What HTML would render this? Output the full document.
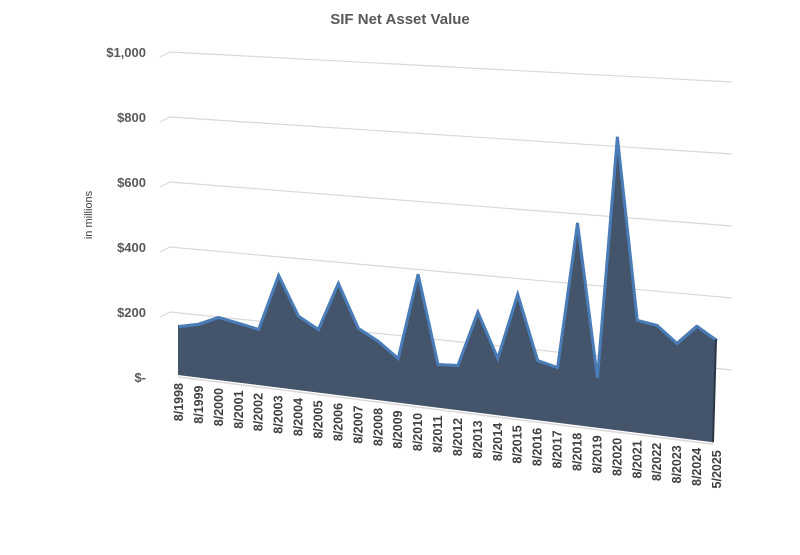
<!DOCTYPE html>
<html><head><meta charset="utf-8"><style>
body{margin:0;background:#fff;}
svg{display:block;font-family:"Liberation Sans",sans-serif;}
</style></head><body>
<svg id="chart" width="800" height="555" viewBox="0 0 800 555">
<text x="400" y="24" text-anchor="middle" font-size="15" font-weight="bold" fill="#595959">SIF Net Asset Value</text>
<text transform="translate(92,215) rotate(-90)" text-anchor="middle" font-size="11" fill="#404040">in millions</text>
<g id="grid"></g>
<g id="ylabels"></g>
<g id="area"></g>
<g id="xlabels"></g>
</svg>
<script>
const categories = ["8/1998","8/1999","8/2000","8/2001","8/2002","8/2003","8/2004","8/2005","8/2006","8/2007","8/2008","8/2009","8/2010","8/2011","8/2012","8/2013","8/2014","8/2015","8/2016","8/2017","8/2018","8/2019","8/2020","8/2021","8/2022","8/2023","8/2024","5/2025"];
const navValues = [156,170,198,187,175,347,229,195,341,212,180,135,392,131,135,298,169,362,176,162,584,145,839,322,313,268,322,288];
const yTicks = [0,200,400,600,800,1000];
const yTickLabels = ["$-","$200","$400","$600","$800","$1,000"];

const NS="http://www.w3.org/2000/svg";
function mk(tag,attrs,parent){const e=document.createElementNS(NS,tag);for(const k in attrs)e.setAttribute(k,attrs[k]);parent.appendChild(e);return e;}
const X0=178,X1=716,n=categories.length;
function xPos(i){return X0+(X1-X0)*i/(n-1);}
function baseY(x){return 375+(x-178)*0.125;}
function scaleY(x){return 0.32+(x-178)*0.038/538;}
function yPos(i,v){const x=xPos(i);return baseY(x)-v*scaleY(x);}
// back wall mapping
function wallL(v){return 377-0.325*v;}
function wallR(v){return 442-0.36*v;}

const grid=document.getElementById('grid'), yl=document.getElementById('ylabels');
yTicks.forEach((v,k)=>{
  if(v>0){
    const ln=mk('polyline',{points:`160,${wallL(v)+5} 170,${wallL(v)} 732,${wallR(v)}`,fill:'none',stroke:'#d9d9d9','stroke-width':1.2},grid);
    
    
  }
  const t=mk('text',{x:146,y:wallL(v)+5,'text-anchor':'end','font-size':13,'font-weight':'bold',fill:'#595959'},yl);
  t.textContent=yTickLabels[k];
  
  
});

const area=document.getElementById('area');
let pts=[];
navValues.forEach((v,i)=>pts.push(xPos(i)+','+yPos(i,v)));
const lastX=xPos(n-1);
const poly=mk('polygon',{points:pts.join(' ')+` ${lastX-3},${baseY(lastX)} ${X0},${baseY(X0)}`,fill:'#44546a'},area);


const edge=mk('polyline',{points:pts.map(p=>{const [a,b]=p.split(',');return (+a+1)+','+(+b+1.5);}).join(' '),fill:'none',stroke:'#4a7db8','stroke-width':3,'stroke-linejoin':'miter'},area);


const re=mk('line',{x1:lastX,y1:yPos(n-1,navValues[n-1]),x2:lastX-3,y2:baseY(lastX),stroke:'#2b3645','stroke-width':2},area);


const fl=mk('line',{x1:X0,y1:baseY(X0)+2,x2:lastX-3,y2:baseY(lastX)+2,stroke:'#d9d9d9','stroke-width':1.5},area);



const xl=document.getElementById('xlabels');
categories.forEach((c,i)=>{
  const x=xPos(i), y=baseY(x)+8;
  const t=mk('text',{transform:`translate(${x+5},${y}) rotate(-90)`,'text-anchor':'end','font-size':12.5,'font-weight':'bold',fill:'#404040'},xl);
  t.textContent=c;
  
  
});
</script>
</body></html>
